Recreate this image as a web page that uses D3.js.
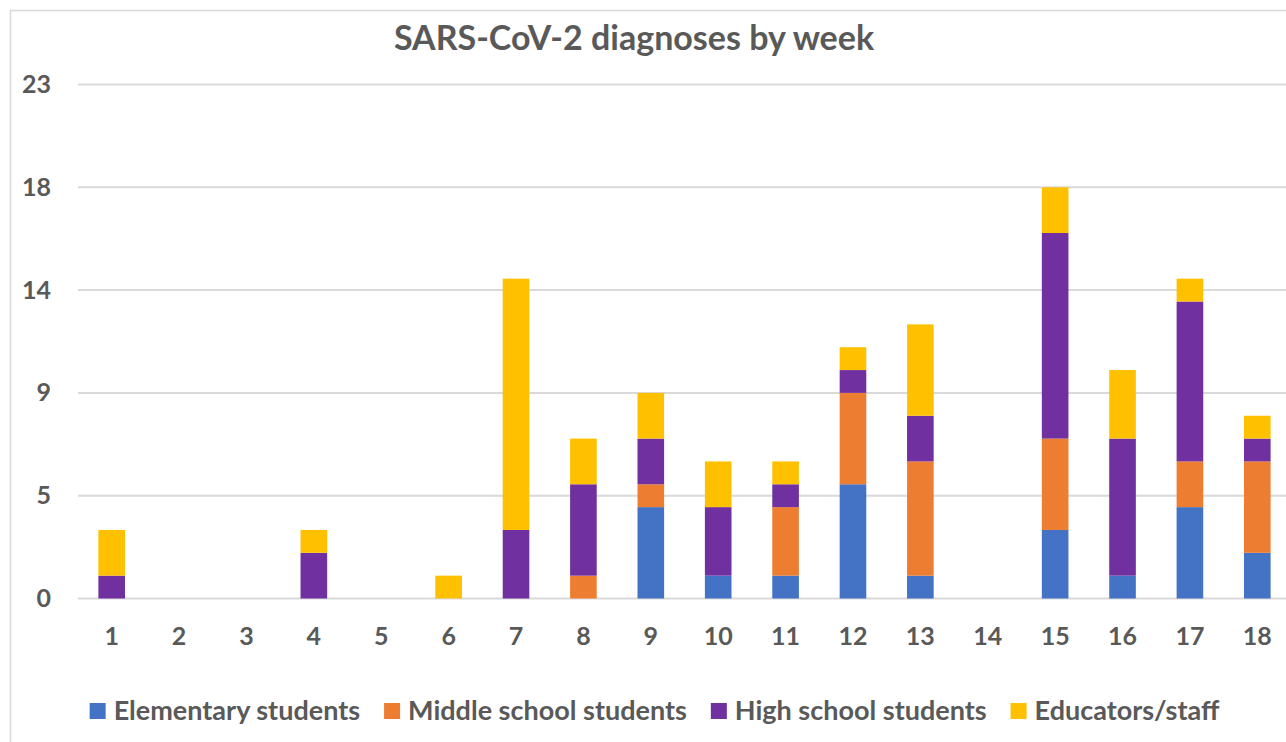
<!DOCTYPE html>
<html><head><meta charset="utf-8">
<script src="https://cdn.jsdelivr.net/npm/d3@7"></script>
<style>body{margin:0;background:#fff;overflow:hidden}svg{display:block}</style>
</head><body>
<svg id="c" width="1286" height="742"></svg>
<script>
const weeks = ["1","2","3","4","5","6","7","8","9","10","11","12","13","14","15","16","17","18"];
const elementary = [0,0,0,0,0,0,0,0,4,1,1,5,1,0,3,1,4,2];
const middle     = [0,0,0,0,0,0,0,1,1,0,3,4,5,0,4,0,2,4];
const high       = [1,0,0,2,0,0,3,4,2,3,1,1,2,0,9,6,7,1];
const educators  = [2,0,0,1,0,1,11,2,2,2,1,1,4,0,2,3,1,1];
const seriesNames = ["Elementary students","Middle school students","High school students","Educators/staff"];
const tickValues = [0,4.5,9,13.5,18,22.5];
const tickLabels = ["0","5","9","14","18","23"];
const colors = ["#4472C4","#ED7D31","#7030A0","#FFC000"];
const title = "SARS-CoV-2 diagnoses by week";

(function(){
const svg = d3.select("#c");
const font = "Lato, 'Open Sans', sans-serif";
const textColor = "#595959";

svg.append("rect").attr("x",10.5).attr("y",10.5).attr("width",1300).attr("height",760)
  .attr("fill","none").attr("stroke","#D9D9D9").attr("stroke-width",1.5);

const pLeft = 78, pRight = 1291, pTop = 84.5, pBottom = 598.5;
const x = d3.scaleBand().domain(weeks).range([pLeft,pRight]).paddingInner(0.605).paddingOuter(0.3025);
const y = d3.scaleLinear().domain([0,22.5]).range([pBottom,pTop]);

svg.append("g").selectAll("line").data(tickValues).join("line")
  .attr("x1",pLeft).attr("x2",pRight).attr("y1",d=>y(d)).attr("y2",d=>y(d))
  .attr("stroke","#D9D9D9").attr("stroke-width",2);

const yAxis = d3.axisLeft(y).tickValues(tickValues).tickFormat((d,i)=>tickLabels[i]).tickSize(0).tickPadding(0);
const yg = svg.append("g").attr("transform","translate(51,0)").call(yAxis);
yg.select(".domain").remove();
yg.selectAll("text").attr("font-family",font).attr("font-weight","bold").attr("font-size",25).attr("fill",textColor);

const xAxis = d3.axisBottom(x).tickSize(0).tickPadding(0);
const xg = svg.append("g").attr("transform",`translate(0,${pBottom+29})`).call(xAxis);
xg.select(".domain").remove();
xg.selectAll("text").attr("font-family",font).attr("font-weight","bold").attr("font-size",25).attr("fill",textColor);

const rows = weeks.map((w,i)=>({week:w, s0:elementary[i], s1:middle[i], s2:high[i], s3:educators[i]}));
const stack = d3.stack().keys(["s0","s1","s2","s3"])(rows);
svg.append("g").selectAll("g").data(stack).join("g")
  .attr("fill",(d,i)=>colors[i])
  .selectAll("rect").data(d=>d.filter(p=>p[1]-p[0]>0)).join("rect")
  .attr("x",d=>x(d.data.week)).attr("width",x.bandwidth())
  .attr("y",d=>y(d[1])).attr("height",d=>y(d[0])-y(d[1]));

svg.append("text").attr("x",634).attr("y",50).attr("text-anchor","middle")
  .attr("font-family",font).attr("font-weight","bold").attr("font-size",34).attr("fill",textColor).text(title);

const lg = svg.append("g");
const fs = 27, sq = 16, gapT = 8, gapI = 24;
const items = lg.selectAll("g").data(seriesNames).join("g");
items.append("rect").attr("width",sq).attr("height",sq).attr("y",-sq/2).attr("fill",(d,i)=>colors[i]);
items.append("text").attr("x",sq+gapT).attr("y",9).attr("font-family",font).attr("font-weight","bold")
  .attr("font-size",fs).attr("fill",textColor).text(d=>d);
let widths = [];
items.each(function(){ widths.push(d3.select(this).select("text").node().getComputedTextLength()); });
const total = widths.reduce((a,w)=>a+sq+gapT+w,0)+gapI*(widths.length-1);
let cx = 654.5 - total/2;
items.each(function(d,i){ d3.select(this).attr("transform",`translate(${cx},711)`); cx += sq+gapT+widths[i]+gapI; });
})();
</script>
</body></html>
